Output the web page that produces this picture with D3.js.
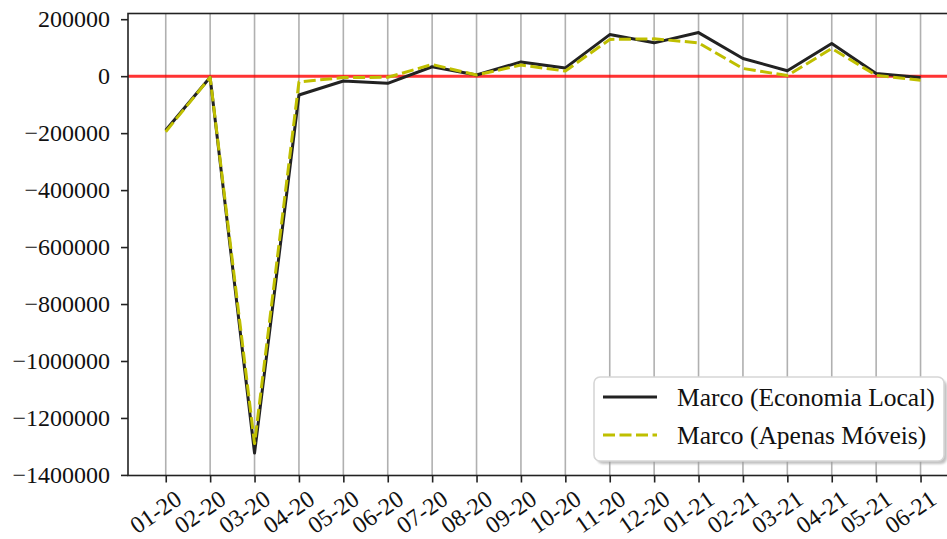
<!DOCTYPE html>
<html>
<head>
<meta charset="utf-8">
<script src="https://cdn.jsdelivr.net/npm/d3@7"></script>
<style>
  body { margin: 0; background: #fff; }
  svg { display: block; font-family: "Liberation Serif", "Times New Roman", serif; }
</style>
</head>
<body>
<svg id="chart" width="947" height="539"></svg>
<script>
// months shown on the x axis
const months = ["01-20", "02-20", "03-20", "04-20", "05-20", "06-20", "07-20", "08-20", "09-20",
  "10-20", "11-20", "12-20", "01-21", "02-21", "03-21", "04-21", "05-21", "06-21"];

// Marco (Economia Local)
const economiaLocal = [-190000, -4000, -1323000, -66000, -17000, -25000, 33000, 4000, 50000,
  29000, 146000, 117000, 153000, 62000, 19000, 115000, 9000, -5000];

// Marco (Apenas Móveis)
const apenasMoveis = [-195000, -4000, -1290000, -20000, -5000, -4000, 41000, 4000, 39000,
  18000, 129000, 131000, 117000, 27000, 2000, 97000, 3000, -14000];

const yTicks = [200000, 0, -200000, -400000, -600000, -800000, -1000000, -1200000, -1400000];

const series = [
  { name: "Marco (Economia Local)", values: economiaLocal, color: "#222", dash: null },
  { name: "Marco (Apenas Móveis)", values: apenasMoveis, color: "#bfbf00", dash: "12,4.5" }
];

const svg = d3.select("#chart");

// plot box (right edge lies past the cropped picture)
const BOX = { left: 128, top: 13.5, bottom: 475.5 };
const STEP = 44.4;
BOX.right = BOX.left + 18.7 * STEP;

const x = d3.scalePoint().domain(months).range([BOX.left + 0.85 * STEP, BOX.right - 0.85 * STEP]);
const y = d3.scaleLinear().domain([-1402000, 220000]).range([BOX.bottom, BOX.top]);

// vertical grid
svg.append("g")
  .selectAll("line")
  .data(months)
  .join("line")
  .attr("x1", d => x(d)).attr("x2", d => x(d))
  .attr("y1", BOX.top).attr("y2", BOX.bottom)
  .attr("stroke", "#b0b0b0")
  .attr("stroke-width", 1.6);

// zero line
svg.append("line")
  .attr("x1", BOX.left).attr("x2", BOX.right)
  .attr("y1", y(0)).attr("y2", y(0))
  .attr("stroke", "red")
  .attr("stroke-opacity", 0.8)
  .attr("stroke-width", 3);

const line = d3.line()
  .x((d, i) => x(months[i]))
  .y(d => y(d));

svg.append("g")
  .selectAll("path")
  .data(series)
  .join("path")
  .attr("d", d => line(d.values))
  .attr("fill", "none")
  .attr("stroke", d => d.color)
  .attr("stroke-width", 3)
  .attr("stroke-dasharray", d => d.dash)
  .attr("stroke-linejoin", "round");

// frame
svg.append("rect")
  .attr("x", BOX.left).attr("y", BOX.top)
  .attr("width", BOX.right - BOX.left).attr("height", BOX.bottom - BOX.top)
  .attr("fill", "none")
  .attr("stroke", "#222")
  .attr("stroke-width", 1.6);

// ---- Y axis -------------------------
const yAxis = svg.append("g")
  .attr("transform", `translate(${BOX.left},0)`)
  .call(d3.axisLeft(y).tickValues(yTicks).tickSize(7).tickPadding(11)
    .tickFormat(d => (d < 0 ? "\u2212" : "") + Math.abs(d)));
yAxis.select(".domain").remove();
yAxis.selectAll(".tick line").attr("stroke", "#222").attr("stroke-width", 1.6);
yAxis.selectAll(".tick text")
  .attr("font-size", 24)
  .attr("font-family", "Liberation Serif")
  .attr("fill", "#111");

// ---- X axis -------------------------
const xAxis = svg.append("g")
  .attr("transform", `translate(0,${BOX.bottom})`)
  .call(d3.axisBottom(x).tickSize(7).tickSizeOuter(0));
xAxis.select(".domain").remove();
xAxis.selectAll(".tick line").attr("stroke", "#222").attr("stroke-width", 1.6);
xAxis.selectAll(".tick text")
  .attr("font-size", 24)
  .attr("font-family", "Liberation Serif")
  .attr("fill", "#111")
  .attr("text-anchor", "end")
  .attr("dy", null)
  .attr("y", null)
  .attr("transform", "translate(17,27) rotate(-35)");

// ---- Legend -------------------------
const defs = svg.append("defs");
const blur = defs.append("filter").attr("id", "shadow").attr("x", "-10%").attr("y", "-10%")
  .attr("width", "130%").attr("height", "140%");
blur.append("feGaussianBlur").attr("stdDeviation", 1.2);

const lg = svg.append("g").attr("transform", "translate(594,377)");
lg.append("rect")
  .attr("x", 3).attr("y", 3)
  .attr("width", 350).attr("height", 84)
  .attr("rx", 6)
  .attr("fill", "#999")
  .attr("opacity", 0.6)
  .attr("filter", "url(#shadow)");
lg.append("rect")
  .attr("width", 350).attr("height", 84)
  .attr("rx", 6)
  .attr("fill", "#fff")
  .attr("stroke", "#d6d6d6")
  .attr("stroke-width", 1.6);

const items = lg.selectAll("g.item")
  .data(series)
  .join("g")
  .attr("class", "item")
  .attr("transform", (d, i) => `translate(0,${20 + i * 38})`);
items.append("line")
  .attr("x1", 9).attr("x2", 63)
  .attr("stroke", d => d.color)
  .attr("stroke-width", 3)
  .attr("stroke-dasharray", d => d.dash);
items.append("text")
  .attr("x", 83)
  .attr("y", 9)
  .attr("font-size", 25.5)
  .attr("fill", "#111")
  .text(d => d.name);
</script>
</body>
</html>
